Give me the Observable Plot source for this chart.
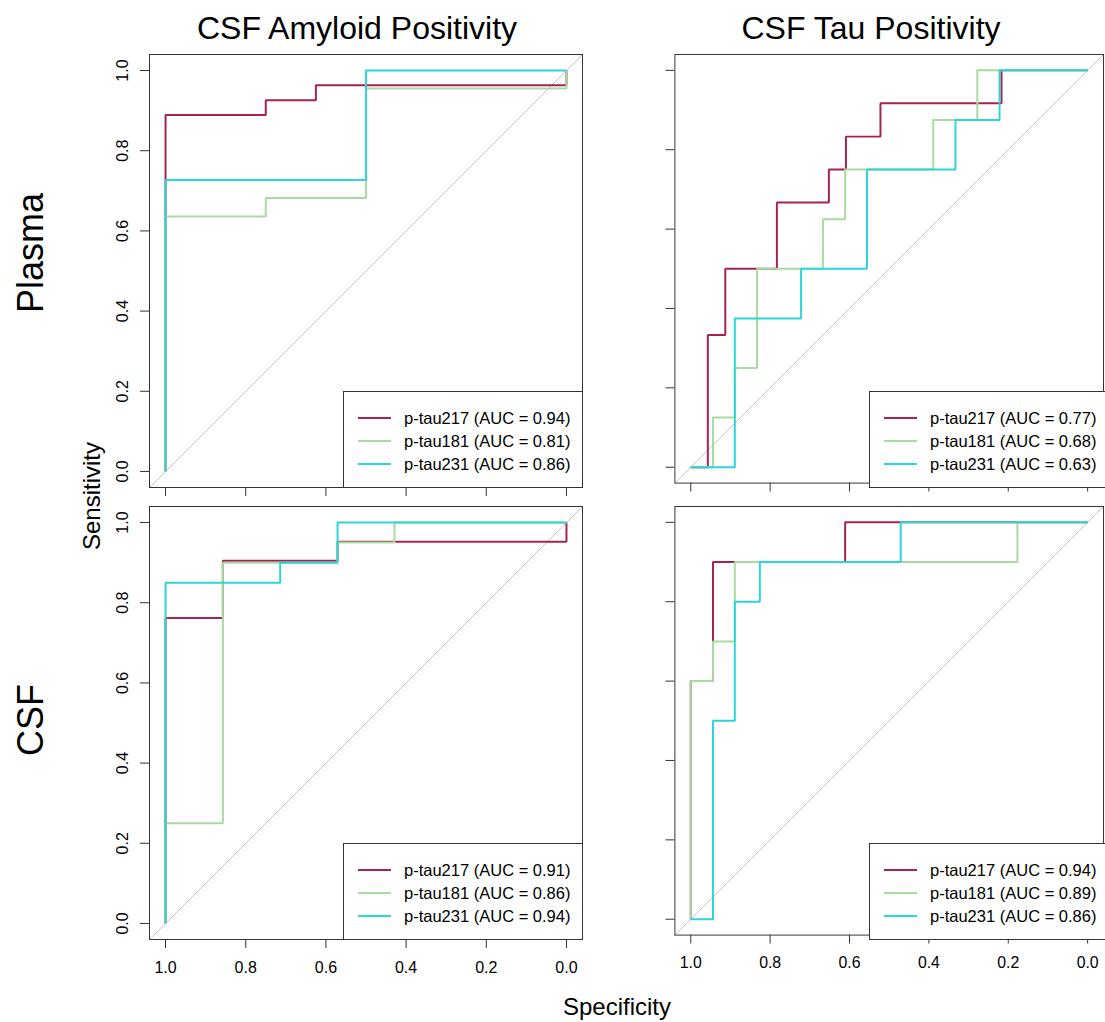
<!DOCTYPE html>
<html><head><meta charset="utf-8">
<script src="https://cdn.jsdelivr.net/npm/d3@7"></script>
<script src="https://cdn.jsdelivr.net/npm/@observablehq/plot@0.6"></script>
<style>
html,body{margin:0;padding:0;background:#fff;overflow:hidden;}
#root{position:relative;width:1105px;height:1022px;overflow:hidden;font-family:"Liberation Sans",Arial,sans-serif;color:#000;background:#fff;}
.panel{position:absolute;}
.lbl{position:absolute;white-space:nowrap;line-height:1;}
.legend{position:absolute;border:1px solid #333;box-sizing:border-box;background:#fff;}
.legend .ln{position:absolute;height:2px;}
.legend .tx{position:absolute;font-size:16.5px;line-height:18px;white-space:nowrap;}
</style></head>
<body><div id="root"></div>
<script>
// ---- data ----
const markers = ["p-tau217", "p-tau181", "p-tau231"];
const colors = ["#A6234F", "#A8DBA0", "#2DD4D8"];
const columnTitles = ["CSF Amyloid Positivity", "CSF Tau Positivity"];
const rowTitles = ["Plasma", "CSF"];
const xTicks = [1, 0.8, 0.6, 0.4, 0.2, 0];
const yTicks = [0, 0.2, 0.4, 0.6, 0.8, 1];
const xLabel = "Specificity";
const yLabel = "Sensitivity";

const aucPlasmaAmyloid = [0.94, 0.81, 0.86];
const aucPlasmaTau = [0.77, 0.68, 0.63];
const aucCsfAmyloid = [0.91, 0.86, 0.94];
const aucCsfTau = [0.94, 0.89, 0.86];

// ROC vertices: [specificity, sensitivity]
const plasmaAmyloid217 = [[1,0],[1,0.889],[0.75,0.889],[0.75,0.926],[0.625,0.926],[0.625,0.963],[0,0.963],[0,1]];
const plasmaAmyloid181 = [[1,0],[1,0.636],[0.75,0.636],[0.75,0.682],[0.5,0.682],[0.5,0.955],[0,0.955],[0,1]];
const plasmaAmyloid231 = [[1,0],[1,0.727],[0.5,0.727],[0.5,1],[0,1]];

const plasmaTau217 = [[1,0],[0.957,0],[0.957,0.333],[0.913,0.333],[0.913,0.5],[0.783,0.5],[0.783,0.667],[0.652,0.667],[0.652,0.75],[0.609,0.75],[0.609,0.833],[0.522,0.833],[0.522,0.917],[0.217,0.917],[0.217,1],[0,1]];
const plasmaTau181 = [[1,0],[0.944,0],[0.944,0.125],[0.889,0.125],[0.889,0.25],[0.833,0.25],[0.833,0.5],[0.667,0.5],[0.667,0.625],[0.611,0.625],[0.611,0.75],[0.389,0.75],[0.389,0.875],[0.278,0.875],[0.278,1],[0,1]];
const plasmaTau231 = [[1,0],[0.889,0],[0.889,0.375],[0.722,0.375],[0.722,0.5],[0.556,0.5],[0.556,0.75],[0.333,0.75],[0.333,0.875],[0.222,0.875],[0.222,1],[0,1]];

const csfAmyloid217 = [[1,0],[1,0.762],[0.857,0.762],[0.857,0.905],[0.571,0.905],[0.571,0.952],[0,0.952],[0,1]];
const csfAmyloid181 = [[1,0],[1,0.25],[0.857,0.25],[0.857,0.9],[0.571,0.9],[0.571,0.95],[0.429,0.95],[0.429,1],[0,1]];
const csfAmyloid231 = [[1,0],[1,0.85],[0.714,0.85],[0.714,0.9],[0.571,0.9],[0.571,1],[0,1]];

const csfTau217 = [[1,0],[1,0.6],[0.944,0.6],[0.944,0.9],[0.611,0.9],[0.611,1],[0,1]];
const csfTau181 = [[1,0],[1,0.6],[0.944,0.6],[0.944,0.7],[0.889,0.7],[0.889,0.9],[0.177,0.9],[0.177,1],[0,1]];
const csfTau231 = [[1,0],[0.944,0],[0.944,0.5],[0.889,0.5],[0.889,0.8],[0.826,0.8],[0.826,0.9],[0.471,0.9],[0.471,1],[0,1]];

const diagonal = [[1.04,-0.04],[-0.04,1.04]];

// ---- layout ----
const panels = [
  {row:0, col:0, curves:[plasmaAmyloid217, plasmaAmyloid181, plasmaAmyloid231], auc:aucPlasmaAmyloid},
  {row:0, col:1, curves:[plasmaTau217, plasmaTau181, plasmaTau231], auc:aucPlasmaTau},
  {row:1, col:0, curves:[csfAmyloid217, csfAmyloid181, csfAmyloid231], auc:aucCsfAmyloid},
  {row:1, col:1, curves:[csfTau217, csfTau181, csfTau231], auc:aucCsfTau}
];
const frameLeft = [149, 675];
const frameTop = [53.5, 505.7];
const S = 433;
const ML = 60, MR = 2, MT = 2, MB = 50;

const root = document.getElementById("root");
const fmt = d3.format(".1f");

panels.forEach(p => {
  const showX = p.row === 1, showY = p.col === 0;
  const marks = [
    Plot.line(diagonal, {x: d => d[0], y: d => d[1], stroke: "#C4C4C4", strokeWidth: 1}),
    ...p.curves.map((c, i) => Plot.line(c, {x: d => d[0], y: d => d[1], stroke: colors[i], strokeWidth: 2, strokeLinejoin: "miter", strokeLinecap: "butt"})),
    Plot.axisX(xTicks, {anchor: "bottom", tickSize: 9, tickPadding: 13, fontSize: 16, stroke: "#333",
      tickFormat: showX ? fmt : () => "", label: null}),
    Plot.axisY(yTicks, {anchor: "left", tickSize: 9, tickPadding: 13, tickRotate: -90, fontSize: 16, stroke: "#333",
      tickFormat: showY ? fmt : () => "", label: null}),
    Plot.frame({stroke: "#333", strokeWidth: 1})
  ];
  const chart = Plot.plot({
    width: ML + S + MR, height: MT + S + MB,
    marginLeft: ML, marginRight: MR, marginTop: MT, marginBottom: MB,
    x: {domain: [1.04, -0.04], label: null},
    y: {domain: [-0.04, 1.04], label: null},
    style: {fontFamily: '"Liberation Sans", Arial, sans-serif', fontSize: "16px", color: "#000", background: "transparent", overflow: "visible"},
    marks
  });
  const wrap = document.createElement("div");
  wrap.className = "panel";
  wrap.style.left = (frameLeft[p.col] - ML) + "px";
  wrap.style.top = (frameTop[p.row] - MT) + "px";
  wrap.appendChild(chart);
  root.appendChild(wrap);

  // legend
  const lg = document.createElement("div");
  lg.className = "legend";
  const lgLeft = frameLeft[p.col] + 194, lgTop = frameTop[p.row] + 337;
  lg.style.left = lgLeft + "px";
  lg.style.top = lgTop + "px";
  lg.style.width = (S - 194 + 1) + "px";
  lg.style.height = (S - 337 + 1) + "px";
  markers.forEach((m, i) => {
    const ln = document.createElement("div");
    ln.className = "ln";
    ln.style.left = "14px"; ln.style.width = "33px";
    ln.style.top = (25 + 23 * i) + "px";
    ln.style.background = colors[i];
    lg.appendChild(ln);
    const tx = document.createElement("div");
    tx.className = "tx";
    tx.style.left = "60px";
    tx.style.top = (26 + 23 * i - 9) + "px";
    tx.textContent = `${m} (AUC = ${p.auc[i].toFixed(2)})`;
    lg.appendChild(tx);
  });
  root.appendChild(lg);
});

function addLabel(text, cx, cy, size, rotate) {
  const d = document.createElement("div");
  d.className = "lbl";
  d.textContent = text;
  d.style.fontSize = size + "px";
  d.style.left = cx + "px";
  d.style.top = cy + "px";
  d.style.transform = `translate(-50%,-50%)` + (rotate ? ` rotate(${rotate}deg)` : "");
  root.appendChild(d);
}
addLabel(columnTitles[0], 357, 28, 32, 0);
addLabel(columnTitles[1], 871, 28, 32, 0);
addLabel(rowTitles[0], 31, 253, 36, -90);
addLabel(rowTitles[1], 31, 720, 36, -90);
addLabel(yLabel, 92, 496, 24, -90);
addLabel(xLabel, 617, 1007, 24, 0);
</script></body></html>
